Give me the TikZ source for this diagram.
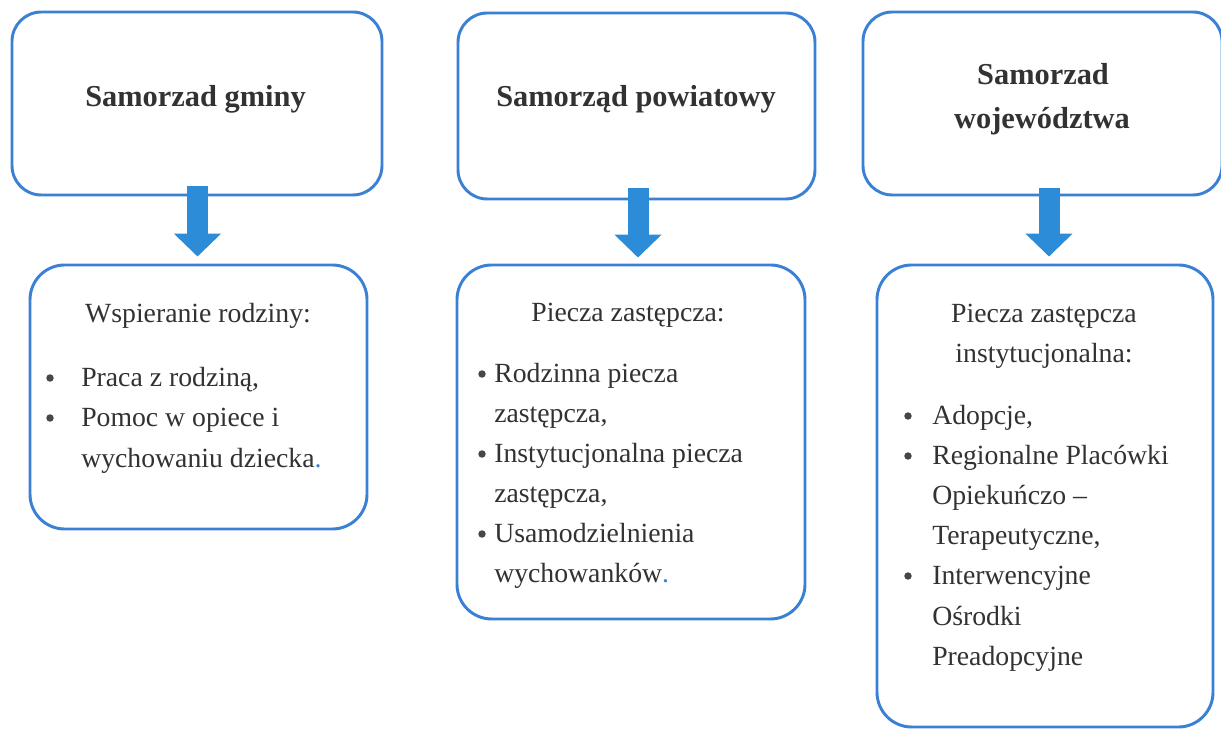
\documentclass[tikz,border=0pt]{standalone}
\usepackage{fontspec}
\setmainfont{Liberation Serif}
\usetikzlibrary{arrows.meta,calc}
\definecolor{boxblue}{RGB}{58,128,212}
\definecolor{arrowblue}{RGB}{44,140,216}
\definecolor{ink}{RGB}{50,50,50}
\begin{document}
\begin{tikzpicture}[x=0.75pt,y=-0.75pt]
\tikzset{
  topbox/.style={draw=boxblue, line width=2.2pt, rounded corners=22pt, fill=white, inner sep=0pt},
  botbox/.style={draw=boxblue, line width=2.2pt, rounded corners=26pt, fill=white, inner sep=0pt},
  bigarrow/.style={draw=arrowblue, line width=15.75pt, -{Triangle[width=34.5pt,length=17.25pt]}},
  ttl/.style={font=\fontsize{22.8}{27}\selectfont\bfseries, text=ink, inner sep=0pt, anchor=base},
  hd/.style={font=\fontsize{20.8}{25}\selectfont, text=ink, inner sep=0pt, anchor=base},
  txt/.style={font=\fontsize{20.8}{25}\selectfont, text=ink, inner sep=0pt, anchor=base west},
  bul/.style={circle, fill=ink!90, inner sep=0pt, minimum size=5.6pt}
}
\useasboundingbox (0,0) rectangle (1221,730);
\fill[white] (0,0) rectangle (1221,730);

% top boxes
\node[topbox, minimum width=277.5pt, minimum height=137.25pt] (t1) at (197,103.5) {};
\node[topbox, minimum width=267.75pt, minimum height=139.5pt] (t2) at (636.5,106) {};
\node[topbox, minimum width=269.25pt, minimum height=137.25pt] (t3) at (1042.5,103.5) {};

% bottom boxes
\node[botbox, minimum width=252.75pt, minimum height=198pt] (b1) at (198.5,397) {};
\node[botbox, minimum width=261pt, minimum height=265.5pt] (b2) at (631,442) {};
\node[botbox, minimum width=252pt, minimum height=346.5pt] (b3) at (1045,496) {};

% arrows
\draw[bigarrow] ($(t1.south)+(0.5,-10)$) -- ($(b1.north)+(-1,-7)$);
\draw[bigarrow] ($(t2.south)+(1.5,-12)$) -- ($(b2.north)+(7,-6)$);
\draw[bigarrow] ($(t3.south)+(6.5,-8)$) -- ($(b3.north)+(4,-7)$);

% titles
\node[ttl] (t1a) at (195.5,107) {Samorzad gminy};
\node[ttl] (t2a) at (636,107) {Samorząd powiatowy};
\node[ttl] (t3a) at (1043,85) {Samorzad};
\node[ttl] (t3b) at (1042,129) {województwa};

% box 1 content
\node[hd] (h1) at (198,323) {Wspieranie rodziny:};
\node[bul] (p1a) at (50,378) {};
\node[txt] (l1a) at (81,387) {Praca z rodziną,};
\node[bul] (p1b) at (50,418) {};
\node[txt] (l1b) at (81,427) {Pomoc w opiece i};
\node[txt] (l1c) at (81,468) {wychowaniu dziecka\textcolor{boxblue}{.}};

% box 2 content
\node[hd] (h2) at (628,322) {Piecza zastępcza:};
\node[bul] (p2a) at (482,374) {};
\node[txt] (l2a) at (494,383) {Rodzinna piecza};
\node[txt] (l2b) at (494,423) {zastępcza,};
\node[bul] (p2b) at (482,454) {};
\node[txt] (l2c) at (494,463) {Instytucjonalna piecza};
\node[txt] (l2d) at (494,503) {zastępcza,};
\node[bul] (p2c) at (482,534) {};
\node[txt] (l2e) at (494,543) {Usamodzielnienia};
\node[txt] (l2f) at (494,583) {wychowanków\textcolor{boxblue}{.}};

% box 3 content
\node[hd] (h3a) at (1044,323) {Piecza zastępcza};
\node[hd] (h3b) at (1044,363) {instytucjonalna:};
\node[bul] (p3a) at (908,416) {};
\node[txt] (l3a) at (932,425) {Adopcje,};
\node[bul] (p3b) at (908,456) {};
\node[txt] (l3b) at (932,465) {Regionalne Placówki};
\node[txt] (l3c) at (932,505) {Opiekuńczo –};
\node[txt] (l3d) at (932,545) {Terapeutyczne,};
\node[bul] (p3c) at (908,576) {};
\node[txt] (l3e) at (932,585) {Interwencyjne};
\node[txt] (l3f) at (932,625) {Ośrodki};
\node[txt] (l3g) at (932,665) {Preadopcyjne};
\end{tikzpicture}
\end{document}
